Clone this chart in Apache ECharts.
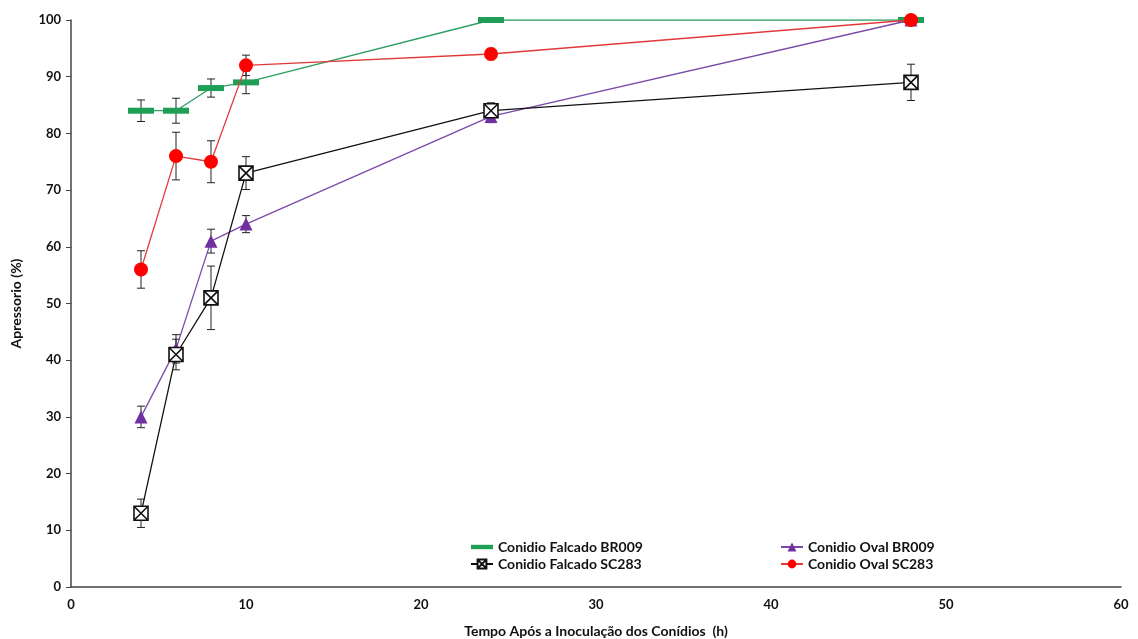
<!DOCTYPE html>
<html><head><meta charset="utf-8">
<script src="https://cdn.jsdelivr.net/npm/echarts@6/dist/echarts.min.js"></script>
<style>html,body{margin:0;padding:0;background:#fff}#c{width:1138px;height:639px}</style>
</head><body><div id="c"></div>
<script>
const hours = [4, 6, 8, 10, 24, 48];
const xTicks = [0, 10, 20, 30, 40, 50, 60];
const yTicks = [0, 10, 20, 30, 40, 50, 60, 70, 80, 90, 100];

const falcadoBR009 = [84, 84, 88, 89, 100, 100];
const falcadoBR009Err = [1.9, 2.2, 1.6, 2.0, 0, 0];
const ovalBR009 = [30, 42, 61, 64, 83, 100];
const ovalBR009Err = [1.9, 2.5, 2.1, 1.5, 1.1, 0];
const falcadoSC283 = [13, 41, 51, 73, 84, 89];
const falcadoSC283Err = [2.5, 2.7, 5.6, 2.9, 1.4, 3.2];
const ovalSC283 = [56, 76, 75, 92, 94, 100];
const ovalSC283Err = [3.3, 4.2, 3.7, 1.8, 1.0, 0];

const names = ['Conidio Falcado BR009', 'Conidio Falcado SC283', 'Conidio Oval BR009', 'Conidio Oval SC283'];

function pts(ys) { return hours.map((x, i) => [x, ys[i]]); }
function errPts(ys, es) { return hours.map((x, i) => [x, ys[i], es[i]]); }

function errSeries(ys, es) {
  return {
    type: 'custom', silent: true, z: 1,
    data: errPts(ys, es),
    renderItem: function (params, api) {
      const x = api.value(0), y = api.value(1), e = api.value(2);
      if (!e) return null;
      const top = api.coord([x, y + e]);
      const bot = api.coord([x, y - e]);
      const w = 4;
      const st = { stroke: '#222', lineWidth: 1 };
      return {
        type: 'group', children: [
          { type: 'line', shape: { x1: top[0], y1: top[1], x2: bot[0], y2: bot[1] }, style: st },
          { type: 'line', shape: { x1: top[0] - w, y1: top[1], x2: top[0] + w, y2: top[1] }, style: st },
          { type: 'line', shape: { x1: bot[0] - w, y1: bot[1], x2: bot[0] + w, y2: bot[1] }, style: st }
        ]
      };
    }
  };
}

const font = 'Lato, "Open Sans", sans-serif';
const legendText = { fontFamily: font, fontWeight: 'bold', fontSize: 14, color: '#111' };
const chart = echarts.init(document.getElementById('c'));
chart.setOption({
  animation: false,
  backgroundColor: '#fff',
  grid: { left: 71, right: 17, top: 20, bottom: 52, containLabel: false, outerBoundsMode: 'none' },
  legend: [
    { data: [{ name: names[0], icon: 'path://M0,4L10,4L10,6L0,6Z' }, names[1]], orient: 'vertical', left: 465, top: 535, itemGap: 3, itemWidth: 22, itemHeight: 11,
      textStyle: legendText },
    { data: [names[2], names[3]], orient: 'vertical', left: 775, top: 535, itemGap: 3, itemWidth: 22, itemHeight: 11,
      textStyle: legendText }
  ],
  xAxis: {
    type: 'value', min: xTicks[0], max: xTicks[xTicks.length - 1], interval: 10,
    name: 'Tempo Após a Inoculação dos Conídios  (h)', nameLocation: 'middle', nameGap: 37,
    nameTextStyle: { fontFamily: font, fontWeight: 'bold', fontSize: 14, color: '#111' },
    axisLine: { lineStyle: { color: '#444', width: 1.5 } },
    axisTick: { show: false },
    splitLine: { show: false },
    axisLabel: { fontFamily: font, fontWeight: 'bold', fontSize: 13, color: '#111', margin: 11 }
  },
  yAxis: {
    type: 'value', min: yTicks[0], max: yTicks[yTicks.length - 1], interval: 10,
    name: 'Apressorio (%)', nameLocation: 'middle', nameGap: 48,
    nameTextStyle: { fontFamily: font, fontWeight: 'bold', fontSize: 14, color: '#111' },
    axisLine: { show: true, lineStyle: { color: '#444', width: 1.5 } },
    axisTick: { show: true, length: 5, lineStyle: { color: '#444' } },
    splitLine: { show: false },
    axisLabel: { fontFamily: font, fontWeight: 'bold', fontSize: 13, color: '#111', margin: 10 }
  },
  series: [
    errSeries(falcadoBR009, falcadoBR009Err),
    errSeries(ovalBR009, ovalBR009Err),
    errSeries(falcadoSC283, falcadoSC283Err),
    errSeries(ovalSC283, ovalSC283Err),
    { name: names[0], type: 'line', z: 2, data: pts(falcadoBR009), symbol: 'rect', symbolSize: [26, 6],
      lineStyle: { color: '#2e9e62', width: 1.3 }, itemStyle: { color: '#1f9e55' } },
    { name: names[2], type: 'line', z: 3, data: pts(ovalBR009), symbol: 'triangle', symbolSize: 13,
      lineStyle: { color: '#7a4aa8', width: 1.3 }, itemStyle: { color: '#7030a0' } },
    { name: names[1], type: 'line', z: 4, data: pts(falcadoSC283),
      symbol: 'path://M0,0L10,0L10,10L0,10Z M0,0L10,10 M10,0L0,10', symbolSize: 14,
      lineStyle: { color: '#111', width: 1.3 }, itemStyle: { color: '#fff', borderColor: '#111', borderWidth: 1.6 } },
    { name: names[3], type: 'line', z: 5, data: pts(ovalSC283), symbol: 'circle', symbolSize: 14,
      lineStyle: { color: '#e23a3a', width: 1.3 }, itemStyle: { color: '#ff0000' } }
  ]
});
</script></body></html>
